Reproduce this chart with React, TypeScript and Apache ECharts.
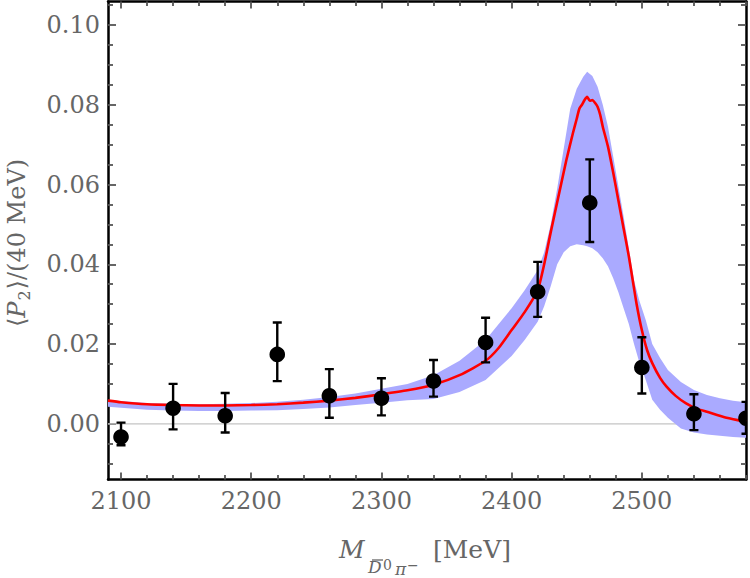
import { useEffect, useRef } from 'react';
import * as echarts from 'echarts';

// Measured <P2> moments per 40 MeV bin, with error-bar ends
const MASS = [2100, 2140, 2180, 2220, 2260, 2300, 2340, 2380, 2420, 2460, 2500, 2540, 2580];
const P2 = [-0.0033, 0.0039, 0.0020, 0.0174, 0.0070, 0.0064, 0.0107, 0.0204, 0.0331, 0.0554, 0.0141, 0.0025, 0.0014];
const P2_LO = [-0.0054, -0.0014, -0.0022, 0.0107, 0.0015, 0.0021, 0.0068, 0.0154, 0.0268, 0.0456, 0.0076, -0.0016, -0.0025];
const P2_HI = [0.0003, 0.0100, 0.0077, 0.0254, 0.0137, 0.0114, 0.0160, 0.0266, 0.0406, 0.0663, 0.0217, 0.0074, 0.0055];

// Central fit curve
const FIT_M = [2090, 2100, 2120, 2140, 2160, 2180, 2200, 2220, 2240, 2260, 2280, 2300, 2320, 2340, 2360, 2380, 2390, 2400, 2410, 2420, 2425, 2430, 2437, 2442, 2447, 2450, 2452, 2454, 2456, 2458, 2460, 2462, 2464, 2466, 2468, 2470, 2474, 2478, 2482, 2486, 2490, 2493, 2496, 2500, 2504, 2508, 2514, 2519, 2526, 2534, 2542, 2550, 2565, 2580];
const FIT_V = [0.0058, 0.0054, 0.0049, 0.0047, 0.0046, 0.0046, 0.0047, 0.0049, 0.0053, 0.0058, 0.0065, 0.0074, 0.0084, 0.0098, 0.0122, 0.0158, 0.0190, 0.0235, 0.0280, 0.0335, 0.0400, 0.0480, 0.0586, 0.0661, 0.0728, 0.0765, 0.0790, 0.0800, 0.0812, 0.0820, 0.0810, 0.0812, 0.0805, 0.0795, 0.0775, 0.0745, 0.0695, 0.0630, 0.0560, 0.0490, 0.0420, 0.0360, 0.0300, 0.0235, 0.0185, 0.0152, 0.0115, 0.0093, 0.0070, 0.0051, 0.0038, 0.0030, 0.0015, 0.0005];

// Uncertainty band of the fit
const BAND_M = [2090, 2100, 2120, 2140, 2160, 2180, 2200, 2220, 2240, 2260, 2280, 2300, 2320, 2340, 2360, 2380, 2400, 2410, 2420, 2425, 2430, 2435, 2440, 2445, 2450, 2455, 2458, 2462, 2466, 2470, 2474, 2478, 2482, 2486, 2490, 2494, 2498, 2503, 2508, 2514, 2520, 2530, 2540, 2550, 2560, 2570, 2580];
const BAND_LO = [0.0043, 0.0040, 0.0035, 0.0033, 0.0032, 0.0032, 0.0033, 0.0034, 0.0037, 0.0041, 0.0047, 0.0053, 0.0059, 0.0062, 0.0080, 0.0110, 0.0170, 0.0210, 0.0256, 0.0295, 0.0345, 0.0400, 0.0430, 0.0445, 0.0450, 0.0448, 0.0445, 0.0440, 0.0430, 0.0415, 0.0395, 0.0365, 0.0330, 0.0290, 0.0250, 0.0200, 0.0155, 0.0110, 0.0060, 0.0035, 0.0015, -0.0012, -0.0022, -0.0027, -0.0030, -0.0033, -0.0035];
const BAND_HI = [0.0060, 0.0057, 0.0052, 0.0050, 0.0049, 0.0050, 0.0052, 0.0055, 0.0060, 0.0067, 0.0076, 0.0088, 0.0100, 0.0122, 0.0158, 0.0210, 0.0290, 0.0335, 0.0385, 0.0430, 0.0500, 0.0590, 0.0690, 0.0790, 0.0840, 0.0870, 0.0883, 0.0872, 0.0845, 0.0800, 0.0745, 0.0670, 0.0595, 0.0520, 0.0440, 0.0360, 0.0310, 0.0260, 0.0200, 0.0165, 0.0135, 0.0105, 0.0085, 0.0072, 0.0064, 0.0058, 0.0054];

// Axis ranges and ticks
const X_MIN = 2090;
const X_MAX = 2580;
const Y_MIN = -0.014;
const Y_MAX = 0.1059;
const X_MAJOR = [2100, 2200, 2300, 2400, 2500];
const X_MINOR = [2120, 2140, 2160, 2180, 2220, 2240, 2260, 2280, 2320, 2340, 2360, 2380, 2420, 2440, 2460, 2480, 2520, 2540, 2560, 2580];
const Y_MAJOR = [0, 0.02, 0.04, 0.06, 0.08, 0.1];
const Y_MINOR = [-0.01, -0.005, 0.005, 0.01, 0.015, 0.025, 0.03, 0.035, 0.045, 0.05, 0.055, 0.065, 0.07, 0.075, 0.085, 0.09, 0.095, 0.105];

const SERIF = '"DejaVu Serif", serif';
const GREY_TEXT = '#666666';
const TICK_COLOR = '#555555';

function xAxis(position: 'top' | 'bottom', ticks: number[], len: number, labels: boolean, line: boolean) {
  return {
    type: 'value',
    position,
    min: X_MIN,
    max: X_MAX,
    axisLine: { show: line, onZero: false, lineStyle: { color: '#000', width: 2.5 } },
    axisTick: { show: true, inside: true, length: len, customValues: ticks, lineStyle: { color: TICK_COLOR, width: 1.8 } },
    axisLabel: {
      show: labels,
      customValues: ticks,
      margin: 9,
      color: GREY_TEXT,
      fontFamily: SERIF,
      fontSize: 24,
      formatter: (v: number) => String(Math.round(v)),
    },
    splitLine: { show: false },
    minorTick: { show: false },
  };
}

function yAxis(position: 'left' | 'right', ticks: number[], len: number, labels: boolean, line: boolean) {
  return {
    type: 'value',
    position,
    min: Y_MIN,
    max: Y_MAX,
    axisLine: { show: line, onZero: false, lineStyle: { color: '#000', width: 2.5 } },
    axisTick: { show: true, inside: true, length: len, customValues: ticks, lineStyle: { color: TICK_COLOR, width: 1.8 } },
    axisLabel: {
      show: labels,
      customValues: ticks,
      margin: 8,
      color: GREY_TEXT,
      fontFamily: SERIF,
      fontSize: 24,
      formatter: (v: number) => v.toFixed(2),
    },
    splitLine: { show: false },
    minorTick: { show: false },
  };
}

function subText(text: string, x: number, baseline: number, size: number, italic: boolean) {
  return {
    type: 'text',
    x,
    y: baseline - 0.346 * size,
    silent: true,
    style: {
      text,
      font: `${italic ? 'italic ' : ''}${size}px ${SERIF}`,
      fill: GREY_TEXT,
      align: 'left',
      verticalAlign: 'middle',
    },
  };
}

export default function App() {
  const ref = useRef<HTMLDivElement>(null);

  useEffect(() => {
    if (!ref.current) return;
    const chart = echarts.init(ref.current, null, { renderer: 'svg' });

    const option = {
      animation: false,
      backgroundColor: '#ffffff',
      grid: { left: 108, right: 4, top: 1.5, bottom: 98.4, containLabel: false, outerBoundsMode: 'none' },
      xAxis: [
        xAxis('bottom', X_MAJOR, 7, true, true),
        xAxis('bottom', X_MINOR, 4.5, false, false),
        xAxis('top', X_MAJOR, 7, false, true),
        xAxis('top', X_MINOR, 4.5, false, false),
      ],
      yAxis: [
        yAxis('left', Y_MAJOR, 8, true, true),
        yAxis('left', Y_MINOR, 5, false, false),
        yAxis('right', Y_MAJOR, 8, false, true),
        yAxis('right', Y_MINOR, 5, false, false),
      ],
      series: [
        {
          type: 'line',
          data: [[X_MIN, 0], [X_MAX, 0]],
          showSymbol: false,
          silent: true,
          z: 0,
          lineStyle: { color: '#c4c4c4', width: 1.2 },
        },
        {
          type: 'custom',
          coordinateSystem: 'cartesian2d',
          data: BAND_M.map((m, i) => [m, BAND_LO[i], BAND_HI[i]]),
          encode: { x: 0, y: [1, 2] },
          silent: true,
          z: 1,
          renderItem: (params: any, api: any) => {
            if (params.dataIndex !== 0) return null;
            const upper = BAND_M.map((m, i) => api.coord([m, BAND_HI[i]]));
            const lower = BAND_M.map((m, i) => api.coord([m, BAND_LO[i]])).reverse();
            return {
              type: 'polygon',
              shape: { points: upper.concat(lower) },
              style: { fill: '#aaaaff', stroke: 'none' },
            };
          },
        },
        {
          type: 'line',
          data: FIT_M.map((m, i) => [m, FIT_V[i]]),
          showSymbol: false,
          silent: true,
          smooth: 0.2,
          z: 2,
          lineStyle: { color: '#ff0000', width: 2.6 },
        },
        {
          type: 'custom',
          coordinateSystem: 'cartesian2d',
          data: MASS.map((m, i) => [m, P2[i], P2_LO[i], P2_HI[i]]),
          encode: { x: 0, y: [1, 2, 3] },
          clip: true,
          silent: true,
          z: 3,
          renderItem: (_params: any, api: any) => {
            const c = api.coord([api.value(0), api.value(1)]);
            const lo = api.coord([api.value(0), api.value(2)]);
            const hi = api.coord([api.value(0), api.value(3)]);
            const cap = 4.5;
            const st = { stroke: '#000', lineWidth: 2.4 };
            return {
              type: 'group',
              children: [
                { type: 'line', shape: { x1: c[0], y1: hi[1], x2: c[0], y2: lo[1] }, style: st },
                { type: 'line', shape: { x1: c[0] - cap, y1: hi[1], x2: c[0] + cap, y2: hi[1] }, style: st },
                { type: 'line', shape: { x1: c[0] - cap, y1: lo[1], x2: c[0] + cap, y2: lo[1] }, style: st },
                { type: 'circle', shape: { cx: c[0], cy: c[1], r: 7.8 }, style: { fill: '#000' } },
              ],
            };
          },
        },
      ],
      graphic: [
        // vertical axis title
        {
          type: 'text',
          x: 17,
          y: 243,
          rotation: Math.PI / 2,
          silent: true,
          style: {
            text: '{m|⟨}{i|P}{s|2}{m|⟩/(40 MeV)}',
            align: 'center',
            verticalAlign: 'middle',
            rich: {
              m: { fontFamily: SERIF, fontSize: 24, lineHeight: 30, fill: GREY_TEXT },
              i: { fontFamily: SERIF, fontSize: 24, fontStyle: 'italic', lineHeight: 30, fill: GREY_TEXT },
              s: { fontFamily: SERIF, fontSize: 16, lineHeight: 16, verticalAlign: 'bottom', padding: [19, 1, 0, 1], fill: GREY_TEXT },
            },
          },
        },
        // horizontal axis title: M with subscript D-bar^0 pi^-
        subText('M', 339, 558, 25, true),
        subText('D', 368, 573, 17, true),
        {
          type: 'line',
          silent: true,
          shape: { x1: 372, y1: 560, x2: 383, y2: 560 },
          style: { stroke: GREY_TEXT, lineWidth: 1.3 },
        },
        subText('0', 383, 569.5, 14, false),
        subText('π', 395, 575, 17, true),
        subText('−', 407, 570, 14, false),
        subText('[MeV]', 433, 558, 25, false),
      ],
    };

    chart.setOption(option as any);
    return () => chart.dispose();
  }, []);

  return (
    <div
      ref={ref}
      style={{ position: 'fixed', left: 0, top: 0, width: 750, height: 578, background: '#fff' }}
    />
  );
}
